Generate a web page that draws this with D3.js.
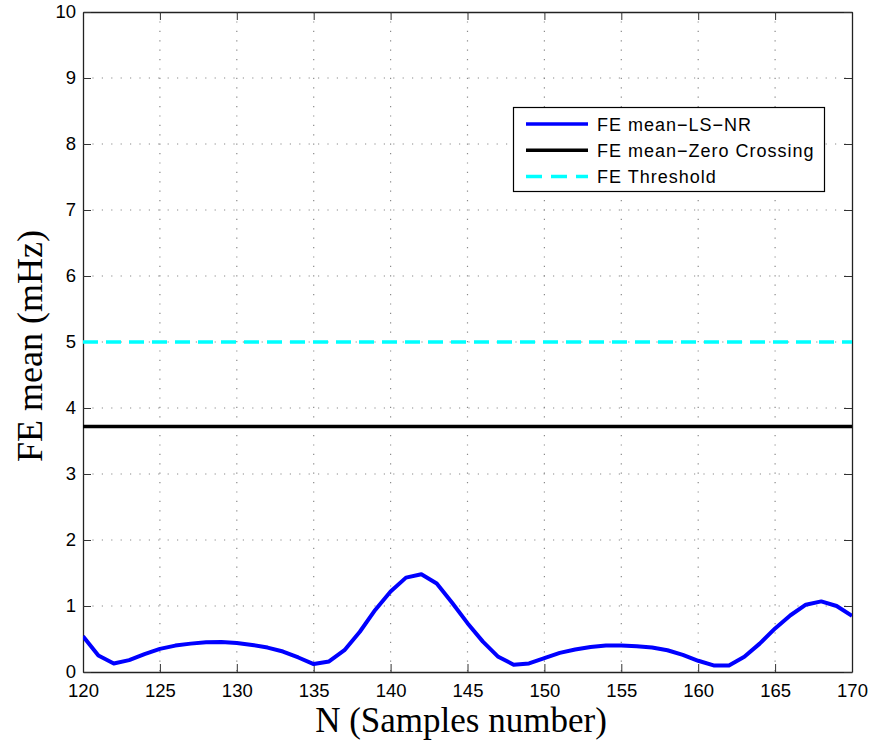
<!DOCTYPE html>
<html>
<head>
<meta charset="utf-8">
<script src="https://cdn.jsdelivr.net/npm/d3@7"></script>
<style>
  html, body { margin: 0; padding: 0; background: #fff; }
  svg { display: block; }
</style>
</head>
<body>
<svg id="chart" width="872" height="742"></svg>
<script>
// ---- data ----
const samples = d3.range(120, 171);
const lsnrValues = [0.54, 0.25, 0.13, 0.18, 0.27, 0.35, 0.40, 0.43, 0.45, 0.455,
  0.44, 0.41, 0.37, 0.31, 0.22, 0.12, 0.16, 0.33, 0.61, 0.94,
  1.22, 1.43, 1.48, 1.34, 1.05, 0.74, 0.46, 0.23, 0.11, 0.13,
  0.21, 0.29, 0.34, 0.38, 0.40, 0.40, 0.39, 0.37, 0.33, 0.26,
  0.17, 0.10, 0.10, 0.23, 0.43, 0.66, 0.86, 1.02, 1.07, 1.00, 0.85];
const zeroCrossingValue = 3.72;
const thresholdValue = 5.0;
const xTicks = [120, 125, 130, 135, 140, 145, 150, 155, 160, 165, 170];
const yTicks = [0, 1, 2, 3, 4, 5, 6, 7, 8, 9, 10];
const legendLabels = ["FE mean\u2212LS\u2212NR", "FE mean\u2212Zero Crossing", "FE Threshold"];
const xTitle = "N (Samples number)";
const yTitle = "FE mean (mHz)";

// ---- layout ----
const W = 872, H = 742;
const m = { left: 83, top: 12, right: 20, bottom: 70 };
const svg = d3.select("#chart");
const x = d3.scaleLinear().domain([120, 170]).range([m.left, W - m.right]);
const y = d3.scaleLinear().domain([0, 10]).range([H - m.bottom, m.top]);

// grid
const grid = svg.append("g").attr("stroke", "#8a8a8a").attr("stroke-width", 1.2)
  .attr("stroke-dasharray", "1.2,8.2");
grid.selectAll(".gx").data(xTicks.slice(1, -1)).join("line")
  .attr("x1", d => x(d)).attr("x2", d => x(d))
  .attr("y1", y(10)).attr("y2", y(0));
grid.selectAll(".gy").data(yTicks.slice(1, -1)).join("line")
  .attr("x1", x(120)).attr("x2", x(170))
  .attr("y1", d => y(d)).attr("y2", d => y(d));

// axes (ticks inward)
const tickLen = 8;
const fontTick = "Liberation Sans, Arial, sans-serif";
const axB = svg.append("g").attr("transform", `translate(0,${y(0)})`)
  .call(d3.axisBottom(x).tickValues(xTicks).tickSizeInner(-tickLen).tickSizeOuter(0).tickPadding(12));
const axT = svg.append("g").attr("transform", `translate(0,${y(10)})`)
  .call(d3.axisTop(x).tickValues(xTicks).tickSizeInner(-tickLen).tickSizeOuter(0).tickFormat(""));
const axL = svg.append("g").attr("transform", `translate(${x(120)},0)`)
  .call(d3.axisLeft(y).tickValues(yTicks).tickSizeInner(-tickLen).tickSizeOuter(0).tickPadding(7));
const axR = svg.append("g").attr("transform", `translate(${x(170)},0)`)
  .call(d3.axisRight(y).tickValues(yTicks).tickSizeInner(-tickLen).tickSizeOuter(0).tickFormat(""));
[axB, axT, axL, axR].forEach(a => {
  a.select(".domain").attr("stroke", "#222").attr("stroke-width", 1.3);
  a.selectAll(".tick line").attr("stroke", "#333").attr("stroke-width", 1);
  a.selectAll(".tick text").attr("font-family", fontTick).attr("font-size", 18.5).attr("fill", "#000");
});

// series
const clipId = "plotclip";
svg.append("clipPath").attr("id", clipId).append("rect")
  .attr("x", x(120)).attr("y", y(10)).attr("width", x(170) - x(120)).attr("height", y(0) - y(10));
const plot = svg.append("g").attr("clip-path", `url(#${clipId})`);

plot.append("line")
  .attr("x1", x(120)).attr("x2", x(170))
  .attr("y1", y(thresholdValue)).attr("y2", y(thresholdValue))
  .attr("stroke", "#00ffff").attr("stroke-width", 3.5).attr("stroke-dasharray", "15,8");

plot.append("line")
  .attr("x1", x(120)).attr("x2", x(170))
  .attr("y1", y(zeroCrossingValue)).attr("y2", y(zeroCrossingValue))
  .attr("stroke", "#000").attr("stroke-width", 3.5);

const line = d3.line().x((d, i) => x(samples[i])).y(d => y(d));
plot.append("path").datum(lsnrValues)
  .attr("d", line).attr("fill", "none")
  .attr("stroke", "#0000ff").attr("stroke-width", 4).attr("stroke-linejoin", "round");

// legend
const lg = svg.append("g");
lg.append("rect").attr("x", 513.5).attr("y", 107.5).attr("width", 311).attr("height", 84)
  .attr("fill", "#fff").attr("stroke", "#000").attr("stroke-width", 1.2);
const legendStyles = [
  { color: "#0000ff", dash: null },
  { color: "#000000", dash: null },
  { color: "#00ffff", dash: "16,9" }
];
legendLabels.forEach((lab, i) => {
  const cy = 124 + i * 26.2;
  lg.append("line").attr("x1", 526).attr("x2", 588).attr("y1", cy).attr("y2", cy)
    .attr("stroke", legendStyles[i].color).attr("stroke-width", 3.5)
    .attr("stroke-dasharray", legendStyles[i].dash);
  lg.append("text").attr("x", 597).attr("y", cy + 6.5)
    .attr("font-family", fontTick).attr("font-size", 18).attr("letter-spacing", 1)
    .attr("fill", "#000").text(lab);
});

// titles
const fontTitle = "Liberation Serif, 'Times New Roman', serif";
svg.append("text").attr("x", 461).attr("y", 731.5).attr("text-anchor", "middle")
  .attr("font-family", fontTitle).attr("font-size", 35).attr("fill", "#000").text(xTitle);
svg.append("text").attr("transform", `translate(42,346) rotate(-90)`).attr("text-anchor", "middle")
  .attr("font-family", fontTitle).attr("font-size", 36).attr("fill", "#000").text(yTitle);
</script>
</body>
</html>
